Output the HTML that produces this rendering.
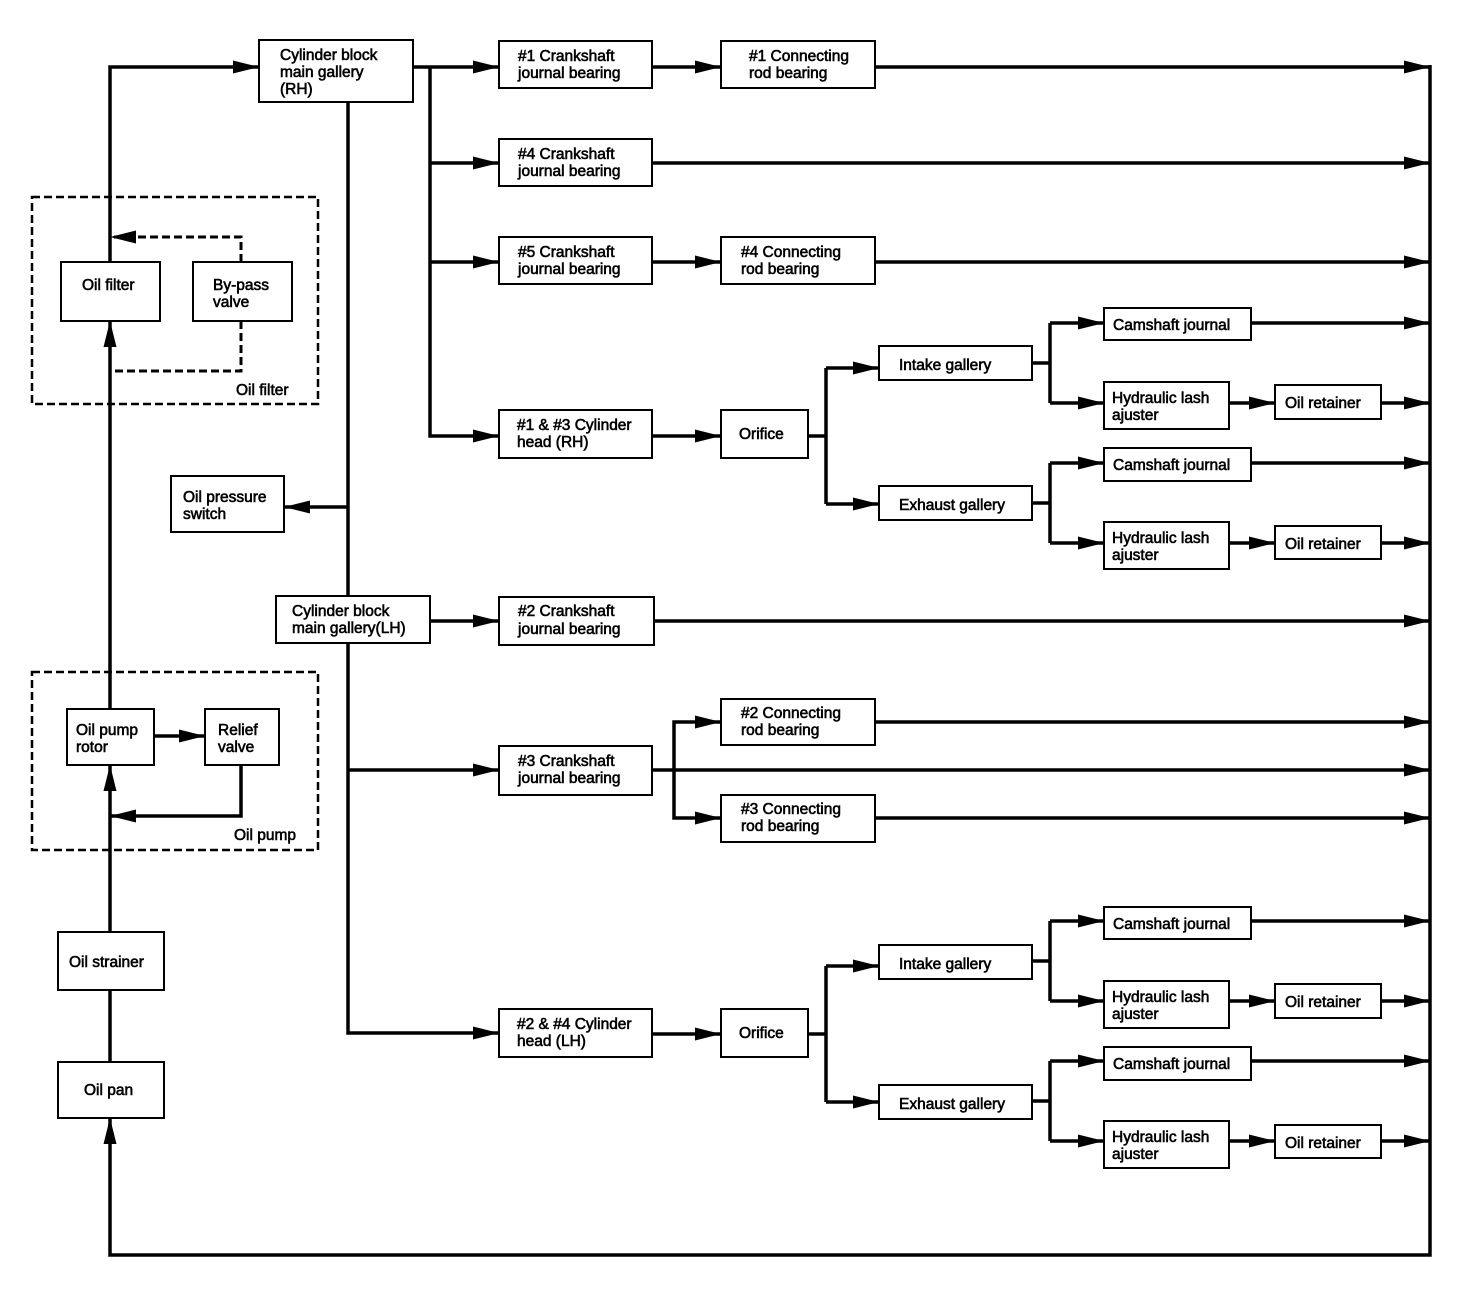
<!DOCTYPE html>
<html><head><meta charset="utf-8"><style>
html,body{margin:0;padding:0;background:#fff}
svg{display:block}
text{font-family:"Liberation Sans",Arial,sans-serif;font-size:15.5px;fill:#000;stroke:#000;stroke-width:0.6}
.b{fill:#fff;stroke:#000;stroke-width:2}
.l{stroke:#000;stroke-width:3.5;fill:none}
.d{stroke:#000;stroke-width:3;fill:none;stroke-dasharray:8,4}
.db{stroke:#000;stroke-width:2.5;fill:none;stroke-dasharray:8,4}
</style></head><body>
<svg width="1472" height="1298" viewBox="0 0 1472 1298" xmlns="http://www.w3.org/2000/svg">
<defs>
<marker id="a" markerUnits="userSpaceOnUse" markerWidth="28" markerHeight="14" refX="26" refY="7" orient="auto">
<path d="M0,0.5 L26,7 L0,13.5 z" fill="#000"/>
</marker>
</defs>

<rect class="db" x="32" y="197" width="286" height="207"/>
<text x="236" y="395">Oil filter</text>
<rect class="db" x="32" y="672" width="286" height="178"/>
<text x="234" y="840">Oil pump</text>

<g class="l">
<path d="M110,1062 L110,932" marker-end="url(#a)"/>
<path d="M110,932 L110,765" marker-end="url(#a)"/>
<path d="M110,709 L110,321" marker-end="url(#a)"/>
<path d="M110,262 L110,67 L259,67" marker-end="url(#a)"/>
<path d="M154,736 L205,736" marker-end="url(#a)"/>
<path d="M241,765 L241,816 L110,816" marker-end="url(#a)"/>
<path d="M1430,65 L1430,1255 L110,1255 L110,1118" marker-end="url(#a)"/>
<path d="M413,67 L499,67" marker-end="url(#a)"/>
<path d="M430,67 L430,436 L499,436" marker-end="url(#a)"/>
<path d="M430,163 L499,163" marker-end="url(#a)"/>
<path d="M430,262 L499,262" marker-end="url(#a)"/>
<path d="M652,67 L721,67" marker-end="url(#a)"/>
<path d="M875,67 L1430,67" marker-end="url(#a)"/>
<path d="M652,163 L1430,163" marker-end="url(#a)"/>
<path d="M652,262 L721,262" marker-end="url(#a)"/>
<path d="M875,262 L1430,262" marker-end="url(#a)"/>
<path d="M348,102 L348,1033 L499,1033" marker-end="url(#a)"/>
<path d="M348,507 L284,507" marker-end="url(#a)"/>
<path d="M430,621 L499,621" marker-end="url(#a)"/>
<path d="M654,621 L1430,621" marker-end="url(#a)"/>
<path d="M348,770 L499,770" marker-end="url(#a)"/>
<path d="M652,770 L1430,770" marker-end="url(#a)"/>
<path d="M674,770 L674,722 L721,722" marker-end="url(#a)"/>
<path d="M674,770 L674,818 L721,818" marker-end="url(#a)"/>
<path d="M875,722 L1430,722" marker-end="url(#a)"/>
<path d="M875,818 L1430,818" marker-end="url(#a)"/>
</g>

<g class="l">
<path d="M652,436 L721,436" marker-end="url(#a)"/>
<path d="M808,436 L826,436"/>
<path d="M826,368 L826,504"/>
<path d="M826,368 L879,368" marker-end="url(#a)"/>
<path d="M826,504 L879,504" marker-end="url(#a)"/>
<path d="M1032,363 L1050,363"/>
<path d="M1050,323 L1050,403"/>
<path d="M1050,323 L1104,323" marker-end="url(#a)"/>
<path d="M1050,403 L1104,403" marker-end="url(#a)"/>
<path d="M1251,323 L1430,323" marker-end="url(#a)"/>
<path d="M1229,403 L1275,403" marker-end="url(#a)"/>
<path d="M1381,403 L1430,403" marker-end="url(#a)"/>
<path d="M1032,503 L1050,503"/>
<path d="M1050,463 L1050,543"/>
<path d="M1050,463 L1104,463" marker-end="url(#a)"/>
<path d="M1050,543 L1104,543" marker-end="url(#a)"/>
<path d="M1251,463 L1430,463" marker-end="url(#a)"/>
<path d="M1229,543 L1275,543" marker-end="url(#a)"/>
<path d="M1381,543 L1430,543" marker-end="url(#a)"/>
</g>
<g class="l" transform="translate(0,598)">
<path d="M652,436 L721,436" marker-end="url(#a)"/>
<path d="M808,436 L826,436"/>
<path d="M826,368 L826,504"/>
<path d="M826,368 L879,368" marker-end="url(#a)"/>
<path d="M826,504 L879,504" marker-end="url(#a)"/>
<path d="M1032,363 L1050,363"/>
<path d="M1050,323 L1050,403"/>
<path d="M1050,323 L1104,323" marker-end="url(#a)"/>
<path d="M1050,403 L1104,403" marker-end="url(#a)"/>
<path d="M1251,323 L1430,323" marker-end="url(#a)"/>
<path d="M1229,403 L1275,403" marker-end="url(#a)"/>
<path d="M1381,403 L1430,403" marker-end="url(#a)"/>
<path d="M1032,503 L1050,503"/>
<path d="M1050,463 L1050,543"/>
<path d="M1050,463 L1104,463" marker-end="url(#a)"/>
<path d="M1050,543 L1104,543" marker-end="url(#a)"/>
<path d="M1251,463 L1430,463" marker-end="url(#a)"/>
<path d="M1229,543 L1275,543" marker-end="url(#a)"/>
<path d="M1381,543 L1430,543" marker-end="url(#a)"/>
</g>

<path class="d" d="M241,262 L241,237 L110,237" marker-end="url(#a)"/>
<path class="d" d="M241,321 L241,371 L112,371"/>

<rect class="b" x="259" y="40" width="154" height="62"/>
<text x="280" y="60">Cylinder block</text><text x="280" y="77">main gallery</text><text x="280" y="94">(RH)</text>

<rect class="b" x="499" y="41" width="153" height="47"/>
<text x="518" y="61">#1 Crankshaft</text><text x="518" y="78">journal bearing</text>
<rect class="b" x="721" y="41" width="154" height="47"/>
<text x="749" y="61">#1 Connecting</text><text x="749" y="78">rod bearing</text>
<rect class="b" x="499" y="139" width="153" height="47"/>
<text x="518" y="159">#4 Crankshaft</text><text x="518" y="176">journal bearing</text>
<rect class="b" x="499" y="237" width="153" height="47"/>
<text x="518" y="257">#5 Crankshaft</text><text x="518" y="274">journal bearing</text>
<rect class="b" x="721" y="237" width="154" height="47"/>
<text x="741" y="257">#4 Connecting</text><text x="741" y="274">rod bearing</text>

<rect class="b" x="61" y="262" width="99" height="59"/>
<text x="82" y="290">Oil filter</text>
<rect class="b" x="193" y="262" width="99" height="59"/>
<text x="213" y="290">By-pass</text><text x="213" y="307">valve</text>

<rect class="b" x="171" y="476" width="113" height="56"/>
<text x="183" y="502">Oil pressure</text><text x="183" y="519">switch</text>

<rect class="b" x="276" y="596" width="154" height="47"/>
<text x="292" y="616">Cylinder block</text><text x="292" y="633">main gallery(LH)</text>
<rect class="b" x="499" y="597" width="155" height="48"/>
<text x="518" y="616">#2 Crankshaft</text><text x="518" y="634">journal bearing</text>
<rect class="b" x="721" y="699" width="154" height="46"/>
<text x="741" y="718">#2 Connecting</text><text x="741" y="735">rod bearing</text>
<rect class="b" x="499" y="746" width="153" height="49"/>
<text x="518" y="766">#3 Crankshaft</text><text x="518" y="783">journal bearing</text>
<rect class="b" x="721" y="795" width="154" height="47"/>
<text x="741" y="814">#3 Connecting</text><text x="741" y="831">rod bearing</text>

<rect class="b" x="67" y="709" width="87" height="56"/>
<text x="76" y="735">Oil pump</text><text x="76" y="752">rotor</text>
<rect class="b" x="205" y="709" width="74" height="56"/>
<text x="218" y="735">Relief</text><text x="218" y="752">valve</text>

<rect class="b" x="58" y="932" width="106" height="58"/>
<text x="69" y="967">Oil strainer</text>
<rect class="b" x="58" y="1062" width="106" height="56"/>
<text x="84" y="1095">Oil pan</text>

<g id="hg">
<rect class="b" x="499" y="410" width="153" height="48"/>
<rect class="b" x="721" y="410" width="87" height="48"/>
<text x="739" y="439">Orifice</text>
<rect class="b" x="879" y="346" width="153" height="34"/>
<text x="899" y="370">Intake gallery</text>
<rect class="b" x="879" y="486" width="153" height="34"/>
<text x="899" y="510">Exhaust gallery</text>
<rect class="b" x="1104" y="308" width="147" height="32"/>
<text x="1113" y="330">Camshaft journal</text>
<rect class="b" x="1104" y="382" width="125" height="47"/>
<text x="1112" y="403">Hydraulic lash</text><text x="1112" y="420">ajuster</text>
<rect class="b" x="1275" y="385" width="106" height="34"/>
<text x="1285" y="408">Oil retainer</text>
<rect class="b" x="1104" y="448" width="147" height="33"/>
<text x="1113" y="470">Camshaft journal</text>
<rect class="b" x="1104" y="522" width="125" height="47"/>
<text x="1112" y="543">Hydraulic lash</text><text x="1112" y="560">ajuster</text>
<rect class="b" x="1275" y="526" width="106" height="33"/>
<text x="1285" y="549">Oil retainer</text>
</g>
<text x="517" y="430">#1 &amp; #3 Cylinder</text><text x="517" y="447">head (RH)</text>
<use href="#hg" transform="translate(0,599)"/>
<text x="517" y="1029">#2 &amp; #4 Cylinder</text><text x="517" y="1046">head (LH)</text>
</svg>
</body></html>
